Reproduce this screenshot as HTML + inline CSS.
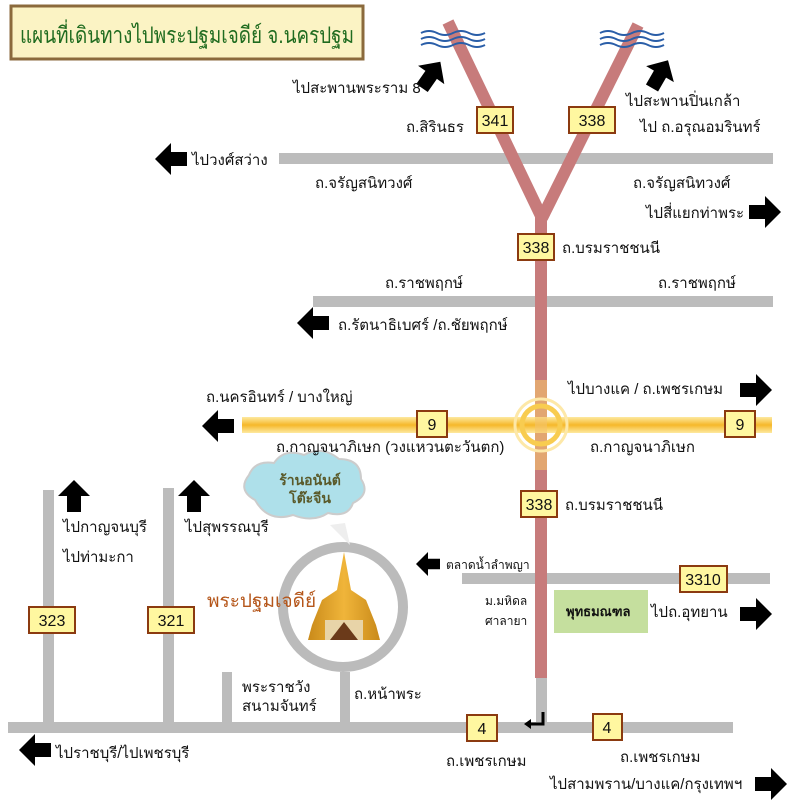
<!DOCTYPE html>
<html><head><meta charset="utf-8"><style>
body{margin:0;background:#fff}
svg text{font-family:"Liberation Sans","Noto Sans CJK SC",sans-serif;fill:#111}
</style></head><body>
<svg width="800" height="801" viewBox="0 0 800 801" xmlns="http://www.w3.org/2000/svg">
<defs>
<linearGradient id="yg" x1="0" y1="0" x2="0" y2="1">
<stop offset="0" stop-color="#fde9a0"/><stop offset="0.5" stop-color="#f6b82a"/><stop offset="1" stop-color="#fde9a0"/></linearGradient>
<linearGradient id="pg" x1="0" y1="0" x2="1" y2="0">
<stop offset="0" stop-color="#c98a1a"/><stop offset="0.5" stop-color="#f0b53a"/><stop offset="1" stop-color="#c98a1a"/></linearGradient>
<g id="arR"><polygon points="0,-7 16,-7 16,-16 32,0 16,16 16,7 0,7" fill="#000"/></g>
</defs>
<rect x="11" y="6" width="352" height="53" fill="#fbf3c4" stroke="#8b6a3c" stroke-width="3"/>
<text x="20" y="43" font-size="23" textLength="334" lengthAdjust="spacingAndGlyphs" style="fill:#1f6b1f">แผนที่เดินทางไปพระปฐมเจดีย์ จ.นครปฐม</text>

<g fill="#bcbcbc">
<rect x="279" y="153" width="494" height="11"/>
<rect x="313" y="296" width="460" height="11"/>
<rect x="462" y="573" width="308" height="11"/>
<rect x="8" y="722" width="725" height="11"/>
<rect x="43" y="490" width="11" height="235"/>
<rect x="163" y="488" width="11" height="237"/>
<rect x="222" y="672" width="10" height="52"/>
<rect x="340" y="672" width="10" height="52"/>
<rect x="536" y="678" width="11" height="46"/>
</g>
<g stroke="#c77b7b" stroke-width="12" fill="none">
<line x1="448" y1="22" x2="542" y2="218"/>
<line x1="638" y1="25" x2="542" y2="218"/>
<line x1="541" y1="215" x2="541" y2="678"/>
</g>
<rect x="242" y="417" width="530" height="16" fill="url(#yg)"/>
<rect x="535" y="380" width="12" height="90" fill="#f3c36a" opacity="0.6"/>
<circle cx="541" cy="425" r="19" fill="none" stroke="#f8cc50" stroke-width="5"/>
<circle cx="541" cy="425" r="26" fill="none" stroke="#fde8a8" stroke-width="3"/>

<g stroke="#2a5ea8" stroke-width="2" fill="none">
<path d="M421,33 q8,-4 16,0 t16,0 t16,0 t16,0"/><path d="M421,39 q8,-4 16,0 t16,0 t16,0 t16,0"/><path d="M421,45 q8,-4 16,0 t16,0 t16,0 t16,0"/>
<path d="M600,33 q8,-4 16,0 t16,0 t16,0 t16,0"/><path d="M600,39 q8,-4 16,0 t16,0 t16,0 t16,0"/><path d="M600,45 q8,-4 16,0 t16,0 t16,0 t16,0"/>
</g>

<g fill="#fff7a0" stroke="#8b3a10" stroke-width="2">
<rect x="477" y="107" width="36" height="26"/>
<rect x="569" y="107" width="46" height="26"/>
<rect x="518" y="234" width="36" height="26"/>
<rect x="417" y="411" width="30" height="26"/>
<rect x="725" y="411" width="30" height="26"/>
<rect x="521" y="491" width="36" height="26"/>
<rect x="680" y="566" width="47" height="26"/>
<rect x="29" y="607" width="46" height="26"/>
<rect x="148" y="607" width="46" height="26"/>
<rect x="467" y="715" width="30" height="26"/>
<rect x="593" y="714" width="29" height="26"/>
</g>
<g font-size="16" text-anchor="middle">
<text x="495" y="126">341</text><text x="592" y="126">338</text><text x="536" y="253">338</text>
<text x="432" y="430">9</text><text x="740" y="430">9</text><text x="539" y="510">338</text>
<text x="703" y="585">3310</text><text x="52" y="626">323</text><text x="171" y="626">321</text>
<text x="482" y="734">4</text><text x="607" y="733">4</text>
</g>

<use href="#arR" transform="translate(187,159) rotate(180)"/>
<use href="#arR" transform="translate(749,212)"/>
<use href="#arR" transform="translate(329,323) rotate(180)"/>
<use href="#arR" transform="translate(740,390)"/>
<use href="#arR" transform="translate(234,426) rotate(180)"/>
<use href="#arR" transform="translate(74,512) rotate(-90)"/>
<use href="#arR" transform="translate(194,512) rotate(-90)"/>
<use href="#arR" transform="translate(440,564) scale(0.75) rotate(180)"/>
<use href="#arR" transform="translate(740,614)"/>
<use href="#arR" transform="translate(51,750) rotate(180)"/>
<use href="#arR" transform="translate(755,784)"/>
<use href="#arR" transform="translate(422,88) rotate(-55)"/>
<use href="#arR" transform="translate(652,88) rotate(-60)"/>
<path d="M543,712 v12 h-14" stroke="#000" stroke-width="3" fill="none"/>
<polygon points="524,724 531,719 531,729" fill="#000"/>

<rect x="554" y="590" width="94" height="43" fill="#c5df9e"/>
<text x="566" y="616" font-size="13" font-weight="bold">พุทธมณฑล</text>

<circle cx="343" cy="607" r="60" fill="none" stroke="#bbb" stroke-width="10"/>
<polygon points="344,552 337,590 322,600 312,625 308,640 380,640 376,625 366,600 351,590" fill="url(#pg)"/>
<rect x="325" y="620" width="38" height="20" fill="#e8d4a8"/>
<polygon points="330,640 344,622 358,640" fill="#6b3a1a"/>
<path d="M255,500 q-18,-10 -6,-25 q6,-15 25,-12 q10,-15 30,-8 q18,-10 35,4 q22,0 22,20 q10,15 -8,24 q-5,15 -25,10 q-15,10 -35,2 q-25,8 -38,-15 z" fill="#aee0ea" stroke="#ccc" stroke-width="2"/>
<path d="M330,525 l20,20 l-5,-22 z" fill="#eee"/>
<text x="310" y="485" font-size="14" font-weight="bold" text-anchor="middle" style="fill:#5a5a2a">ร้านอนันต์</text>
<text x="310" y="503" font-size="14" font-weight="bold" text-anchor="middle" style="fill:#5a5a2a">โต๊ะจีน</text>

<g font-size="15">
<text x="293" y="93">ไปสะพานพระราม 8</text>
<text x="406" y="132">ถ.สิรินธร</text>
<text x="626" y="106">ไปสะพานปิ่นเกล้า</text>
<text x="640" y="132">ไป ถ.อรุณอมรินทร์</text>
<text x="192" y="165">ไปวงศ์สว่าง</text>
<text x="315" y="188">ถ.จรัญสนิทวงศ์</text>
<text x="633" y="188">ถ.จรัญสนิทวงศ์</text>
<text x="646" y="218">ไปสี่แยกท่าพระ</text>
<text x="562" y="253">ถ.บรมราชชนนี</text>
<text x="385" y="288">ถ.ราชพฤกษ์</text>
<text x="658" y="288">ถ.ราชพฤกษ์</text>
<text x="338" y="330">ถ.รัตนาธิเบศร์ /ถ.ชัยพฤกษ์</text>
<text x="206" y="402">ถ.นครอินทร์ / บางใหญ่</text>
<text x="568" y="394">ไปบางแค / ถ.เพชรเกษม</text>
<text x="276" y="452">ถ.กาญจนาภิเษก (วงแหวนตะวันตก)</text>
<text x="590" y="452">ถ.กาญจนาภิเษก</text>
<text x="565" y="510">ถ.บรมราชชนนี</text>
<text x="63" y="532">ไปกาญจนบุรี</text>
<text x="63" y="562">ไปท่ามะกา</text>
<text x="185" y="532">ไปสุพรรณบุรี</text>
<text x="651" y="617">ไปถ.อุทยาน</text>
<text x="242" y="692">พระราชวัง</text>
<text x="242" y="711">สนามจันทร์</text>
<text x="354" y="699">ถ.หน้าพระ</text>
<text x="56" y="758">ไปราชบุรี/ไปเพชรบุรี</text>
<text x="446" y="766">ถ.เพชรเกษม</text>
<text x="620" y="762">ถ.เพชรเกษม</text>
<text x="550" y="789">ไปสามพราน/บางแค/กรุงเทพฯ</text>
</g>
<g font-size="12">
<text x="446" y="569">ตลาดน้ำลำพญา</text>
<text x="485" y="605">ม.มหิดล</text>
<text x="485" y="625">ศาลายา</text>
</g>
<text x="207" y="607" font-size="19" style="fill:#b5561a">พระปฐมเจดีย์</text>
</svg>
</body></html>
